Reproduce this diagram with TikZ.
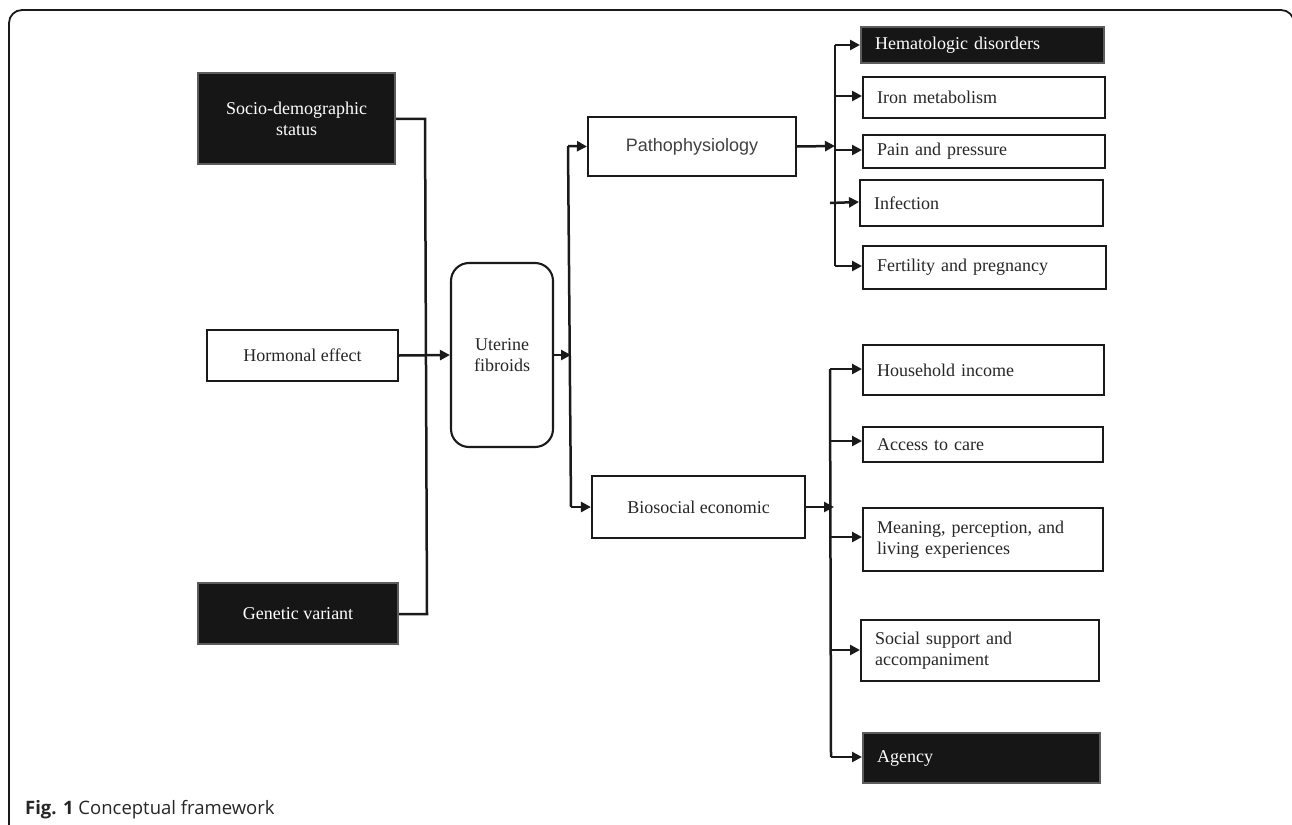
\documentclass[tikz,border=0pt]{standalone}
\usepackage{fontspec}
\setmainfont{Liberation Serif}
\newfontfamily\helv{Liberation Sans}
\newfontfamily\capfont{Open Sans}
\usetikzlibrary{arrows.meta,positioning}
\definecolor{boxblack}{HTML}{161616}
\definecolor{linecol}{HTML}{1A1A1A}
\tikzset{
  box/.style={draw=linecol, line width=2.1pt, inner sep=0pt, font=\fontsize{18}{21}\selectfont, text=black!85},
  darkbox/.style={box, fill=boxblack, draw=boxblack!70, text=white},
  conn/.style={draw=linecol, line width=2.5pt},
  arr/.style={conn, -{Triangle[length=10pt,width=10pt]}},
}
\begin{document}
\begin{tikzpicture}[x=1pt,y=-1pt]
\useasboundingbox (0,0) rectangle (1292,824);
\clip (0,0) rectangle (1292,824);
% frame
\draw[line width=1.8pt, draw=linecol, rounded corners=13pt] (9,840) -- (9,10) -- (1294,10) -- (1294,840);

% left boxes
\node[darkbox, minimum width=197pt, minimum height=91pt, align=center] (socio) at (296.5,118.5) {Socio-demographic\\status};
\node[box, minimum width=191pt, minimum height=51pt] (horm) at (302.5,355.5) {Hormonal effect};
\node[darkbox, minimum width=200pt, minimum height=61pt] (gen) at (298,613.5) {Genetic variant};

\node[box, rounded corners=18pt, minimum width=102pt, minimum height=184pt, align=center] (ut) at (502,355) {Uterine\\fibroids};

\node[box, minimum width=208pt, minimum height=59pt, font=\helv\fontsize{18}{21}\selectfont, text=black!75] (path) at (692,146.5) {Pathophysiology};
\node[box, minimum width=213pt, minimum height=62pt] (bio) at (698.5,507) {Biosocial economic};

% right boxes top
\node[darkbox, anchor=north west, minimum width=243pt, minimum height=36pt, text width=215pt, align=left, inner xsep=14pt] (hema) at (860,26) {Hematologic disorders};
\node[box, anchor=north west, minimum width=242pt, minimum height=41pt, text width=214pt, align=left, inner xsep=14pt] (iron) at (862,76) {Iron metabolism};
\node[box, anchor=north west, minimum width=242pt, minimum height=33pt, text width=214pt, align=left, inner xsep=14pt] (pain) at (862,134) {Pain and pressure};
\node[box, anchor=north west, minimum width=243pt, minimum height=46pt, text width=215pt, align=left, inner xsep=14pt] (inf) at (859,179) {Infection};
\node[box, anchor=north west, minimum width=243pt, minimum height=43pt, text width=215pt, align=left, inner xsep=14pt] (fert) at (862,245) {Fertility and pregnancy};

% right boxes bottom
\node[box, anchor=north west, minimum width=241pt, minimum height=50pt, text width=213pt, align=left, inner xsep=14pt] (house) at (862,344) {Household income};
\node[box, anchor=north west, minimum width=240pt, minimum height=35pt, text width=212pt, align=left, inner xsep=14pt] (access) at (862,426) {Access to care};
\node[box, anchor=north west, minimum width=240pt, minimum height=63pt, text width=212pt, align=left, inner xsep=14pt, font=\fontsize{18}{21.5}\selectfont] (mean) at (862,507) {Meaning, perception, and\\living experiences};
\node[box, anchor=north west, minimum width=238pt, minimum height=61pt, text width=210pt, align=left, inner xsep=14pt, font=\fontsize{18}{21.5}\selectfont] (social) at (860,619) {Social support and\\accompaniment};
\node[darkbox, anchor=north west, minimum width=237pt, minimum height=50pt, text width=209pt, align=left, inner xsep=14pt] (agency) at (862,732) {Agency};

% coordinates
\coordinate (jm) at (571,355);
\coordinate (jp) at (835,146);
\coordinate (jb) at (834,507);

% left connectors
\draw[conn] (socio.east |- 0,119) -- (425,119) -- (427,614) -- (gen.east |- 0,614);
\draw[arr] (horm.east) -- (ut.west);
% uterine to middle
\draw[arr] (ut.east) -- (jm);
\draw[conn] (568,146) -- (571,507);
\draw[arr] (568,146) -- (path.west);
\draw[arr] (571,507) -- (bio.west);

% pathophysiology branch
\draw[arr] (path.east) -- (jp);
\draw[conn] (835,45) -- (835,266);
\draw[arr] (835,45) -- (hema.west |- 0,45);
\draw[arr] (835,96) -- (iron.west |- 0,96);
\draw[arr] (835,150) -- (pain.west |- 0,150);
\draw[arr] (830,203) -- (inf.west |- 0,202);
\draw[arr] (835,266) -- (fert.west |- 0,266);

% biosocial branch
\draw[arr] (bio.east) -- (jb);
\draw[conn] (830,369) -- (831,757);
\draw[arr] (830,369) -- (house.west |- 0,369);
\draw[arr] (830,441) -- (access.west |- 0,441);
\draw[arr] (830,537) -- (mean.west |- 0,537);
\draw[arr] (831,650) -- (social.west |- 0,650);
\draw[arr] (831,757) -- (agency.west |- 0,757);

% caption
\node[anchor=base west, inner sep=0pt, font=\capfont\fontsize{18.5}{22}\selectfont, text=black!85] (cap) at (25,814) {\textbf{Fig. 1} Conceptual framework};
\end{tikzpicture}
\end{document}
